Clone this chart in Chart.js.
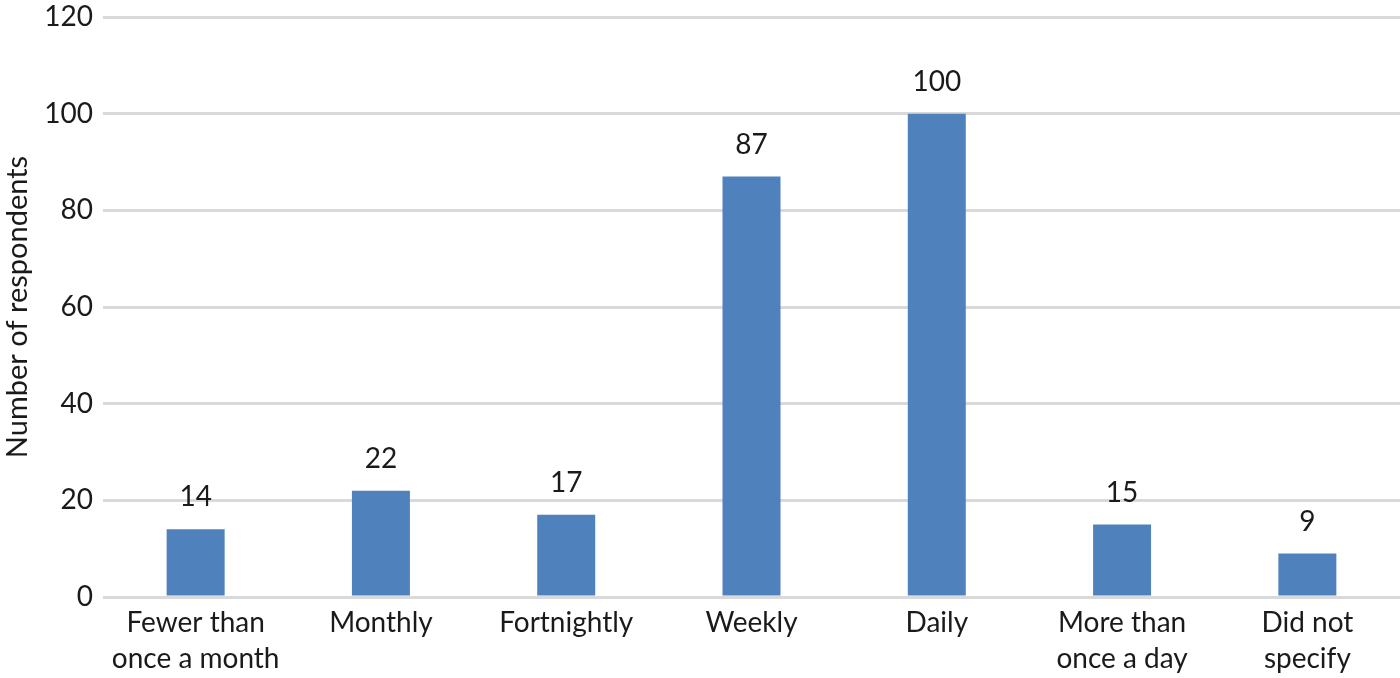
<!DOCTYPE html>
<html>
<head>
<meta charset="utf-8">
<script src="https://cdn.jsdelivr.net/npm/chart.js@4/dist/chart.umd.min.js"></script>
<style>
html,body{margin:0;padding:0;background:#fff;}
#wrap{width:1400px;height:678px;position:relative;}
</style>
</head>
<body>
<div id="wrap"><canvas id="c" width="1400" height="678"></canvas></div>
<script>
const categories = [
  ["Fewer than", "once a month"],
  ["Monthly"],
  ["Fortnightly"],
  ["Weekly"],
  ["Daily"],
  ["More than", "once a day"],
  ["Did not", "specify"]
];
const respondents = [14, 22, 17, 87, 100, 15, 9];
const yTicks = [0, 20, 40, 60, 80, 100, 120];
const yTitle = "Number of respondents";

const FONT = "Lato, 'Open Sans', sans-serif";

const valueLabels = {
  id: 'valueLabels',
  afterDatasetsDraw(chart) {
    const ctx = chart.ctx;
    const meta = chart.getDatasetMeta(0);
    ctx.save();
    ctx.font = "400 28px " + FONT;
    ctx.fillStyle = "#1a1a1a";
    ctx.textAlign = "center";
    ctx.textBaseline = "middle";
    meta.data.forEach((bar, i) => {
      ctx.fillText(String(chart.data.datasets[0].data[i]), bar.x, bar.y - 32);
    });
    ctx.restore();
  }
};

new Chart(document.getElementById('c'), {
  type: 'bar',
  data: {
    labels: categories,
    datasets: [{
      data: respondents,
      backgroundColor: '#4F81BD',
      borderWidth: 0,
      categoryPercentage: 1,
      barPercentage: 0.313
    }]
  },
  options: {
    responsive: false,
    animation: false,
    devicePixelRatio: 1,
    layout: { padding: { top: 0, right: 0, bottom: 0, left: 0 } },
    plugins: { legend: { display: false }, tooltip: { enabled: false } },
    scales: {
      x: {
        grid: { display: false, drawTicks: false },
        border: { display: false },
        ticks: {
          color: '#1a1a1a',
          font: { family: FONT, size: 28, lineHeight: 1.32 },
          padding: 7,
          maxRotation: 0,
          autoSkip: false
        },
        afterFit(scale) { scale.height = 81; }
      },
      y: {
        min: 0, max: 120,
        afterBuildTicks(scale) { scale.ticks = yTicks.map(v => ({ value: v })); },
        grid: { color: '#D9D9D9', lineWidth: 3, drawTicks: false },
        border: { display: false },
        ticks: {
          color: '#1a1a1a',
          font: { family: FONT, size: 28, lineHeight: 0.5 },
          padding: 10
        },
        title: {
          display: true,
          text: yTitle,
          color: '#1a1a1a',
          font: { family: FONT, size: 29 },
          padding: { top: 0, bottom: 0 }
        },
        afterFit(scale) { scale.width = 103; }
      }
    }
  },
  plugins: [valueLabels]
});
</script>
</body>
</html>
